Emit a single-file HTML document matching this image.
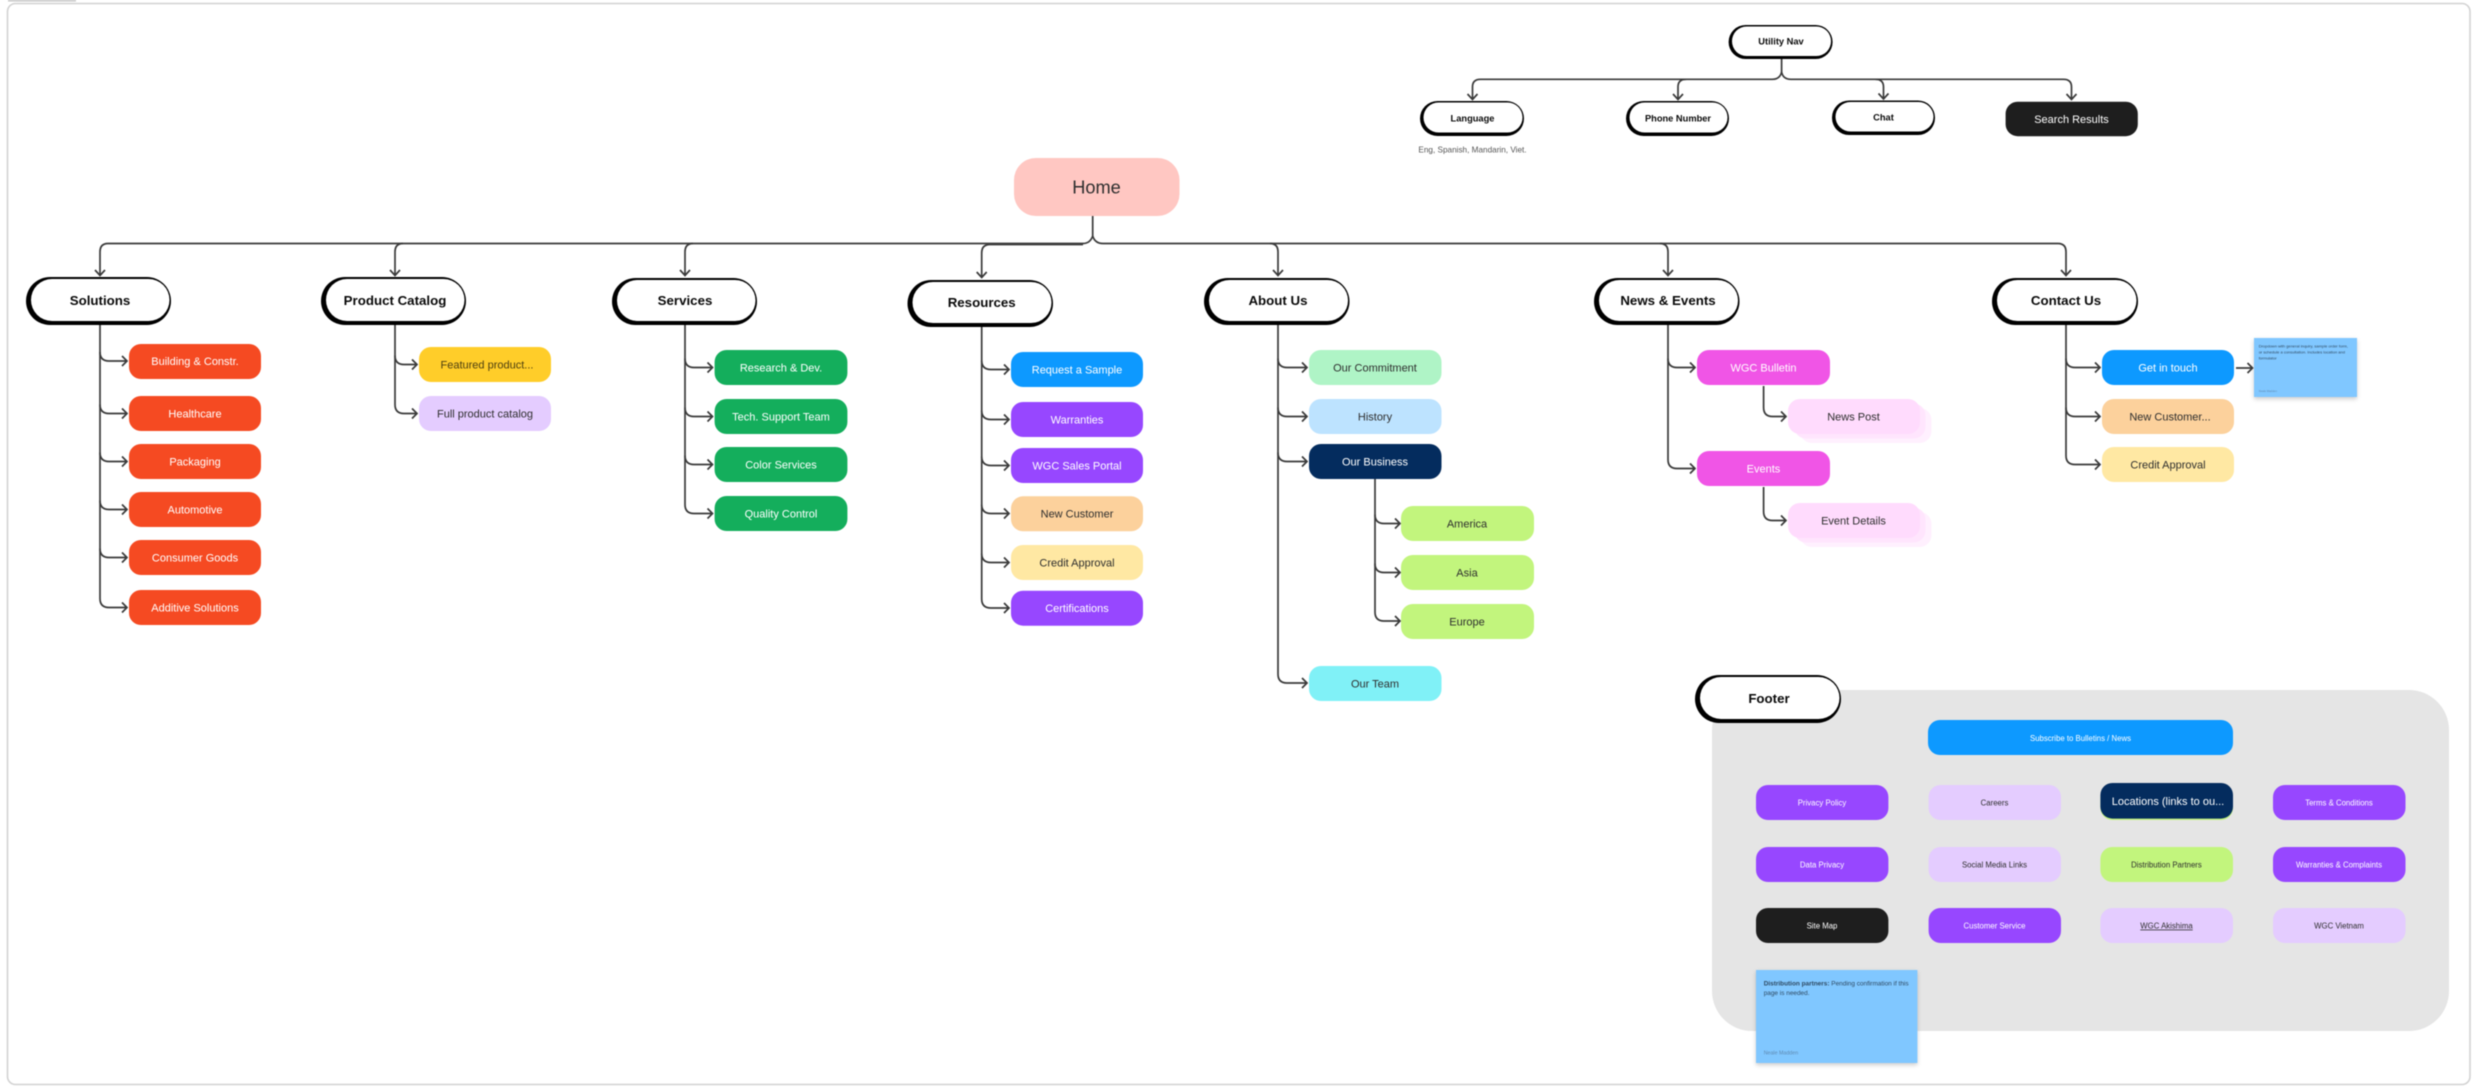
<!DOCTYPE html>
<html><head><meta charset="utf-8"><style>
html,body{margin:0;padding:0;background:#fff;width:2477px;height:1090px;overflow:hidden}
svg{display:block;filter:blur(.4px)}
text{font-family:"Liberation Sans",sans-serif;text-anchor:middle;fill:#2e2e2e}
.h{font-weight:700;font-size:13.3px;fill:#0a0a0a}
.u{font-weight:700;font-size:9.3px;fill:#0a0a0a}
.c{font-size:11px}
.w{fill:#fff}
.f{font-size:7.8px}
.l{fill:none;stroke:#3a3a3a;stroke-width:1.7}
.n{text-anchor:start;fill:#2f4a62}
</style></head><body>
<svg width="2477" height="1090" viewBox="0 0 2477 1090" xmlns="http://www.w3.org/2000/svg">
<defs><filter id="s" x="-10%" y="-10%" width="120%" height="125%"><feDropShadow dx="0" dy="2" stdDeviation="2" flood-color="#000" flood-opacity=".2"/></filter></defs>
<rect x="8" y="0" width="68" height="1.5" fill="#c4c4c4"/>
<rect x="7.5" y="3.5" width="2462.5" height="1081" rx="8" fill="#fff" stroke="#d2d2d2" stroke-width="1.6"/>

<!-- footer panel -->
<rect x="1712" y="690" width="737" height="341" rx="40" fill="#e5e5e5"/>

<!-- main tree connectors -->
<g class="l">
<path d="M1092.7 216V236M1092.7 236Q1090 243.5 1083 243.5H108Q100 243.5 100 252V275M95 270L100 275.5L105 270"/>
<path d="M1092.7 236Q1095 243.5 1103 243.5H2058Q2066 243.5 2066 252V275M2061 270L2066 275.5L2071 270"/>
<path d="M403 243.5Q395 243.5 395 252V275M390 270L395 275.5L400 270"/>
<path d="M693 243.5Q685 243.5 685 252V275M680 270L685 275.5L690 270"/>
<path d="M1083 244.5H990Q981.7 244.5 981.7 253V277M976.7 272L981.7 277.5L986.7 272"/>
<path d="M1270 243.5Q1278 243.5 1278 252V275M1273 270L1278 275.5L1283 270"/>
<path d="M1660 243.5Q1668 243.5 1668 252V275M1663 270L1668 275.5L1673 270"/>

<!-- utility -->
<path d="M1781.6 59V72M1781.6 72Q1780 79.3 1772 79.3H1480.5Q1472.5 79.3 1472.5 87V99M1467.5 94L1472.5 99.5L1477.5 94"/>
<path d="M1781.6 72Q1783 79.3 1791 79.3H2063.5Q2071.5 79.3 2071.5 87V99M2066.5 94L2071.5 99.5L2076.5 94"/>
<path d="M1686 79.3Q1678 79.3 1678 87V99M1673 94L1678 99.5L1683 94"/>
<path d="M1875.5 79.3Q1883.5 79.3 1883.5 87V98.5M1878.5 93.5L1883.5 99L1888.5 93.5"/>

<!-- solutions -->
<path d="M100 325V598.5"/>
<path d="M100 352Q100 361 109 361H127M122 356L127 361L122 366"/>
<path d="M100 404.5Q100 413.5 109 413.5H127M122 408.5L127 413.5L122 418.5"/>
<path d="M100 452.5Q100 461.5 109 461.5H127M122 456.5L127 461.5L122 466.5"/>
<path d="M100 500.5Q100 509.5 109 509.5H127M122 504.5L127 509.5L122 514.5"/>
<path d="M100 548.5Q100 557.5 109 557.5H127M122 552.5L127 557.5L122 562.5"/>
<path d="M100 598.5Q100 607.5 109 607.5H127M122 602.5L127 607.5L122 612.5"/>
<!-- product -->
<path d="M395 325V404.5"/>
<path d="M395 355.5Q395 364.5 404 364.5H417M412 359.5L417 364.5L412 369.5"/>
<path d="M395 404.5Q395 413.5 404 413.5H417M412 408.5L417 413.5L412 418.5"/>
<!-- services -->
<path d="M685 325V504.5"/>
<path d="M685 358.5Q685 367.5 694 367.5H712.5M707.5 362.5L712.5 367.5L707.5 372.5"/>
<path d="M685 407.5Q685 416.5 694 416.5H712.5M707.5 411.5L712.5 416.5L707.5 421.5"/>
<path d="M685 455.5Q685 464.5 694 464.5H712.5M707.5 459.5L712.5 464.5L707.5 469.5"/>
<path d="M685 504.5Q685 513.5 694 513.5H712.5M707.5 508.5L712.5 513.5L707.5 518.5"/>
<!-- resources -->
<path d="M981.7 327V599"/>
<path d="M981.7 360.5Q981.7 369.5 991 369.5H1009M1004 364.5L1009 369.5L1004 374.5"/>
<path d="M981.7 410.5Q981.7 419.5 991 419.5H1009M1004 414.5L1009 419.5L1004 424.5"/>
<path d="M981.7 456.5Q981.7 465.5 991 465.5H1009M1004 460.5L1009 465.5L1004 470.5"/>
<path d="M981.7 504.5Q981.7 513.5 991 513.5H1009M1004 508.5L1009 513.5L1004 518.5"/>
<path d="M981.7 553.5Q981.7 562.5 991 562.5H1009M1004 557.5L1009 562.5L1004 567.5"/>
<path d="M981.7 599Q981.7 608 991 608H1009M1004 603L1009 608L1004 613"/>
<!-- about -->
<path d="M1278 325V674"/>
<path d="M1278 358.5Q1278 367.5 1287 367.5H1307M1302 362.5L1307 367.5L1302 372.5"/>
<path d="M1278 407.5Q1278 416.5 1287 416.5H1307M1302 411.5L1307 416.5L1302 421.5"/>
<path d="M1278 452.5Q1278 461.5 1287 461.5H1307M1302 456.5L1307 461.5L1302 466.5"/>
<path d="M1278 674Q1278 683 1287 683H1307M1302 678L1307 683L1302 688"/>
<path d="M1375 479V612"/>
<path d="M1375 514.5Q1375 523.5 1384 523.5H1400M1395 518.5L1400 523.5L1395 528.5"/>
<path d="M1375 563.5Q1375 572.5 1384 572.5H1400M1395 567.5L1400 572.5L1395 577.5"/>
<path d="M1375 612Q1375 621 1384 621H1400M1395 616L1400 621L1395 626"/>
<!-- news -->
<path d="M1668 325V459.5"/>
<path d="M1668 358.5Q1668 367.5 1677 367.5H1695M1690 362.5L1695 367.5L1690 372.5"/>
<path d="M1668 459.5Q1668 468.5 1677 468.5H1695M1690 463.5L1695 468.5L1690 473.5"/>
<path d="M1763.6 386V407.5Q1763.6 416.5 1772.6 416.5H1786M1781 411.5L1786 416.5L1781 421.5"/>
<path d="M1763.6 487V511.5Q1763.6 520.5 1772.6 520.5H1786M1781 515.5L1786 520.5L1781 525.5"/>
<!-- contact -->
<path d="M2066 325V455.5"/>
<path d="M2066 358.5Q2066 367.5 2075 367.5H2100M2095 362.5L2100 367.5L2095 372.5"/>
<path d="M2066 407.5Q2066 416.5 2075 416.5H2100M2095 411.5L2100 416.5L2095 421.5"/>
<path d="M2066 455.5Q2066 464.5 2075 464.5H2100M2095 459.5L2100 464.5L2095 469.5"/>
<path d="M2236 368H2252.5M2247.5 363L2252.5 368L2247.5 373"/>
</g>

<!-- Home -->
<rect x="1014" y="158" width="165.5" height="58" rx="22" fill="#ffc7c2"/>
<text x="1096.5" y="193.5" font-size="18.2">Home</text>

<!-- section pills -->
<g>
<rect x="26" y="277" width="145" height="48" rx="24" fill="#000"/><rect x="31" y="279" width="138.5" height="42" rx="21" fill="#fff"/><text class="h" x="100" y="305">Solutions</text>
<rect x="321" y="277" width="145" height="48" rx="24" fill="#000"/><rect x="326" y="279" width="138.5" height="42" rx="21" fill="#fff"/><text class="h" x="395" y="305">Product Catalog</text>
<rect x="612" y="278" width="145" height="47" rx="23.5" fill="#000"/><rect x="617" y="280" width="138.5" height="41" rx="20.5" fill="#fff"/><text class="h" x="685" y="305">Services</text>
<rect x="907.5" y="280" width="145.5" height="47" rx="23.5" fill="#000"/><rect x="912.5" y="282" width="139" height="41" rx="20.5" fill="#fff"/><text class="h" x="981.7" y="307">Resources</text>
<rect x="1204" y="278" width="145.5" height="47" rx="23.5" fill="#000"/><rect x="1209" y="280" width="139" height="41" rx="20.5" fill="#fff"/><text class="h" x="1278" y="305">About Us</text>
<rect x="1594" y="278" width="145.5" height="47" rx="23.5" fill="#000"/><rect x="1599" y="280" width="139" height="41" rx="20.5" fill="#fff"/><text class="h" x="1668" y="305">News &amp; Events</text>
<rect x="1992" y="278" width="146" height="47" rx="23.5" fill="#000"/><rect x="1997" y="280" width="139.5" height="41" rx="20.5" fill="#fff"/><text class="h" x="2066" y="305">Contact Us</text>
<rect x="1695" y="675" width="146" height="48" rx="24" fill="#000"/><rect x="1700" y="677" width="139.5" height="42" rx="21" fill="#fff"/><text class="h" x="1769" y="703">Footer</text>
</g>

<!-- utility pills -->
<rect x="1728.6" y="25" width="104" height="34" rx="17" fill="#000"/><rect x="1732" y="26.5" width="99" height="29.5" rx="14.7" fill="#fff"/><text class="u" x="1781" y="44.5">Utility Nav</text>
<rect x="1420" y="101" width="104" height="35" rx="17.5" fill="#000"/><rect x="1423.5" y="102.5" width="99" height="30" rx="15" fill="#fff"/><text class="u" x="1472.5" y="121.5">Language</text>
<rect x="1626" y="101" width="103" height="35" rx="17.5" fill="#000"/><rect x="1629.5" y="102.5" width="98" height="30" rx="15" fill="#fff"/><text class="u" x="1678" y="121.5">Phone Number</text>
<rect x="1832" y="100.5" width="103" height="34.5" rx="17" fill="#000"/><rect x="1835.5" y="102" width="98" height="29.5" rx="15" fill="#fff"/><text class="u" x="1883.5" y="120.5">Chat</text>
<rect x="2005.6" y="101.7" width="132.2" height="34.5" rx="12" fill="#1e1e1e"/><text class="c w" x="2071.5" y="123" font-size="10.8">Search Results</text>
<text x="1472.5" y="152.5" font-size="8.2" style="fill:#555">Eng, Spanish, Mandarin, Viet.</text>

<!-- solutions children -->
<g fill="#f54a22">
<rect x="129" y="344" width="132" height="35" rx="12"/><rect x="129" y="396" width="132" height="35" rx="12"/><rect x="129" y="444" width="132" height="35" rx="12"/><rect x="129" y="492" width="132" height="35" rx="12"/><rect x="129" y="540" width="132" height="35" rx="12"/><rect x="129" y="590" width="132" height="35" rx="12"/>
</g>
<g class="c">
<text class="w" x="195" y="365">Building &amp; Constr.</text>
<text class="w" x="195" y="417.5">Healthcare</text>
<text class="w" x="195" y="465.5">Packaging</text>
<text class="w" x="195" y="513.5">Automotive</text>
<text class="w" x="195" y="561.5">Consumer Goods</text>
<text class="w" x="195" y="611.5">Additive Solutions</text>
</g>
<!-- product children -->
<rect x="419" y="347" width="132" height="35" rx="12" fill="#ffcd29"/><text class="c" x="487" y="368.5" style="fill:#4d3f10">Featured product...</text>
<rect x="419" y="396" width="132" height="35" rx="12" fill="#e4ccff"/><text class="c" x="485" y="417.5">Full product catalog</text>
<!-- services children -->
<g fill="#14ae5c"><rect x="714.6" y="350" width="132.8" height="35" rx="12"/><rect x="714.6" y="399" width="132.8" height="35" rx="12"/><rect x="714.6" y="447" width="132.8" height="35" rx="12"/><rect x="714.6" y="496" width="132.8" height="35" rx="12"/></g>
<g class="c">
<text class="w" x="781" y="371.5">Research &amp; Dev.</text>
<text class="w" x="781" y="420.5">Tech. Support Team</text>
<text class="w" x="781" y="468.5">Color Services</text>
<text class="w" x="781" y="517.5">Quality Control</text>
</g>
<!-- resources children -->
<rect x="1011" y="352" width="132" height="35" rx="12" fill="#0d99ff"/>
<rect x="1011" y="402" width="132" height="35" rx="12" fill="#9747ff"/>
<rect x="1011" y="448" width="132" height="35" rx="12" fill="#9747ff"/>
<rect x="1011" y="496.3" width="132" height="35" rx="12" fill="#fcd19c"/>
<rect x="1011" y="545" width="132" height="35" rx="12" fill="#ffe8a3"/>
<rect x="1011" y="590.7" width="132" height="35" rx="12" fill="#9747ff"/>
<g class="c">
<text class="w" x="1077" y="373.5">Request a Sample</text>
<text class="w" x="1077" y="423.5">Warranties</text>
<text class="w" x="1077" y="469.5">WGC Sales Portal</text>
<text x="1077" y="517.5">New Customer</text>
<text x="1077" y="566.5">Credit Approval</text>
<text class="w" x="1077" y="612">Certifications</text>
</g>
<!-- about children -->
<rect x="1309" y="350" width="132.5" height="35" rx="12" fill="#aff4c6"/>
<rect x="1309" y="399" width="132.5" height="35" rx="12" fill="#bde3ff"/>
<rect x="1309" y="444" width="132.5" height="35" rx="12" fill="#042c5e"/>
<rect x="1309" y="666" width="132.5" height="35" rx="12" fill="#80f1f7"/>
<rect x="1401" y="506" width="133" height="35" rx="12" fill="#c2f57d"/>
<rect x="1401" y="555" width="133" height="35" rx="12" fill="#c2f57d"/>
<rect x="1401" y="604" width="133" height="35" rx="12" fill="#c2f57d"/>
<g class="c">
<text x="1375" y="371.5">Our Commitment</text>
<text x="1375" y="420.5">History</text>
<text class="w" x="1375" y="465.5">Our Business</text>
<text x="1375" y="687.5">Our Team</text>
<text x="1467" y="527.5">America</text>
<text x="1467" y="576.5">Asia</text>
<text x="1467" y="625.5">Europe</text>
</g>
<!-- news children -->
<rect x="1697" y="350" width="133" height="35" rx="12" fill="#f055e6"/>
<rect x="1697" y="451" width="133" height="35" rx="12" fill="#f055e6"/>
<rect x="1800" y="408" width="131.5" height="35" rx="12" fill="#fff0fe"/><rect x="1794" y="403.5" width="131.5" height="35" rx="12" fill="#ffe5fd"/><rect x="1788" y="399" width="132" height="35" rx="12" fill="#ffdbfd"/>
<rect x="1800" y="512" width="131.5" height="35" rx="12" fill="#fff0fe"/><rect x="1794" y="507.5" width="131.5" height="35" rx="12" fill="#ffe5fd"/><rect x="1788" y="503" width="132" height="35" rx="12" fill="#ffdbfd"/>
<g class="c">
<text class="w" x="1763.5" y="371.5">WGC Bulletin</text>
<text class="w" x="1763.5" y="472.5">Events</text>
<text x="1853.5" y="420.5">News Post</text>
<text x="1853.5" y="524.5">Event Details</text>
</g>
<!-- contact children -->
<rect x="2102" y="350" width="132" height="35" rx="12" fill="#0d99ff"/>
<rect x="2102" y="399" width="132" height="35" rx="12" fill="#fcd19c"/>
<rect x="2102" y="447" width="132" height="35" rx="12" fill="#ffe8a3"/>
<g class="c">
<text class="w" x="2168" y="371.5">Get in touch</text>
<text x="2170" y="420.5">New Customer...</text>
<text x="2168" y="468.5">Credit Approval</text>
</g>
<rect x="2254" y="338" width="103" height="59" fill="#80c7ff" filter="url(#s)"/>
<g class="n" font-size="4">
<text class="n" x="2258.7" y="347.5">Dropdown with general inquiry, sample order form,</text>
<text class="n" x="2258.7" y="353.5">or schedule a consultation. Includes location and</text>
<text class="n" x="2258.7" y="359.5">formulator</text>
<text class="n" x="2258.7" y="392" font-size="2.8" style="fill:#5f8bb3">Neale Madden</text>
</g>

<!-- footer items -->
<rect x="1928" y="720" width="305" height="35" rx="12" fill="#0d99ff"/>
<rect x="1756" y="785" width="132.4" height="35" rx="12" fill="#9747ff"/>
<rect x="1928.6" y="785" width="132.4" height="35" rx="12" fill="#e4ccff"/>
<rect x="2100.4" y="785" width="132.6" height="35" rx="12" fill="#c2f57d"/>
<rect x="2100.4" y="783" width="132.6" height="35.6" rx="12" fill="#042c5e"/>
<rect x="2273" y="785" width="132.5" height="35" rx="12" fill="#9747ff"/>
<rect x="1756" y="847" width="132.4" height="35" rx="12" fill="#9747ff"/>
<rect x="1928.6" y="847" width="132.4" height="35" rx="12" fill="#e4ccff"/>
<rect x="2100.4" y="847" width="132.6" height="35" rx="12" fill="#c2f57d"/>
<rect x="2273" y="847" width="132.5" height="35" rx="12" fill="#9747ff"/>
<rect x="1756" y="908" width="132.4" height="35" rx="12" fill="#1e1e1e"/>
<rect x="1928.6" y="908" width="132.4" height="35" rx="12" fill="#9747ff"/>
<rect x="2100.4" y="908" width="132.6" height="35" rx="12" fill="#e4ccff"/>
<rect x="2273" y="908" width="132.5" height="35" rx="12" fill="#e4ccff"/>
<g class="f">
<text class="f w" x="2080.5" y="741">Subscribe to Bulletins / News</text>
<text class="f w" x="1822" y="805.5">Privacy Policy</text>
<text class="f" x="1994.5" y="805.5">Careers</text>
<text class="w" x="2168" y="805" font-size="11">Locations (links to ou...</text>
<text class="f w" x="2339" y="805.5">Terms &amp; Conditions</text>
<text class="f w" x="1822" y="867.5">Data Privacy</text>
<text class="f" x="1994.5" y="867.5">Social Media Links</text>
<text class="f" x="2166.5" y="867.5">Distribution Partners</text>
<text class="f w" x="2339" y="867.5">Warranties &amp; Complaints</text>
<text class="f w" x="1822" y="928.5">Site Map</text>
<text class="f w" x="1994.5" y="928.5">Customer Service</text>
<text class="f" x="2166.5" y="928.5" text-decoration="underline">WGC Akishima</text>
<text class="f" x="2339" y="928.5">WGC Vietnam</text>
</g>
<rect x="1756" y="970" width="161.4" height="93" fill="#80c7ff" filter="url(#s)"/>
<text class="n" x="1763.7" y="985.5" font-size="6.45"><tspan font-weight="700">Distribution partners:</tspan> Pending confirmation if this</text>
<text class="n" x="1763.7" y="995" font-size="6.45">page is needed.</text>
<text class="n" x="1763.7" y="1054.5" font-size="5.3" style="fill:#5f8bb3">Neale Madden</text>
</svg>
</body></html>
